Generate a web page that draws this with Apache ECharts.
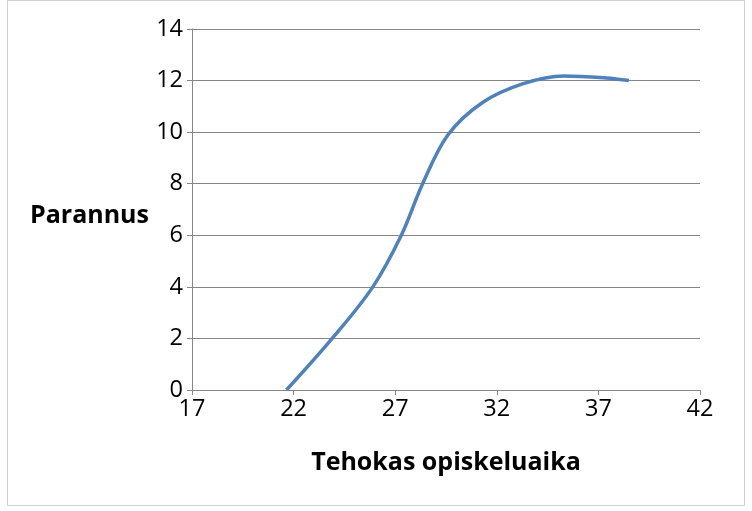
<!DOCTYPE html>
<html><head><meta charset="utf-8">
<script src="https://cdn.jsdelivr.net/npm/echarts@6/dist/echarts.min.js"></script>
<style>html,body{margin:0;padding:0;background:#fff}#c{width:752px;height:511px}</style>
</head><body><div id="c"></div>
<script>
const xValues = [21.65, 23.9, 25.9, 27.3, 28.35, 29.6, 31.3, 33.3, 35.3, 37.4, 38.5];
const yValues = [0, 2.0, 4.0, 6.0, 8.0, 9.9, 11.15, 11.88, 12.18, 12.1, 12.0];
const xTitle = "Tehokas opiskeluaika";
const yTitle = "Parannus";
const font = "'Open Sans', sans-serif";
const chart = echarts.init(document.getElementById('c'));
chart.setOption({
  animation: false,
  grid: {left: 192, right: 52, top: 29, bottom: 121},
  graphic: [
    {type: 'rect', shape: {x: 7.5, y: 0.5, width: 737, height: 505}, style: {fill: 'none', stroke: '#d0d0d0', lineWidth: 1}, silent: true},
    {type: 'text', left: 30, top: 203, style: {text: yTitle, font: "bold 25px 'Open Sans', sans-serif", fill: '#000'}}
  ],
  xAxis: {
    type: 'value', min: 17, max: 42, interval: 5,
    name: xTitle, nameLocation: 'middle', nameGap: 60,
    nameTextStyle: {fontFamily: font, fontSize: 25, fontWeight: 'bold', color: '#000'},
    axisLine: {show: true, lineStyle: {color: '#868686', width: 1}},
    axisTick: {show: true, length: 5, inside: false, lineStyle: {color: '#868686'}},
    axisLabel: {fontFamily: font, fontSize: 23.5, color: '#000', margin: 7},
    splitLine: {show: false}
  },
  yAxis: {
    type: 'value', min: 0, max: 14, interval: 2,
    axisLine: {show: true, lineStyle: {color: '#868686', width: 1}},
    axisTick: {show: true, length: 5, lineStyle: {color: '#868686'}},
    axisLabel: {fontFamily: font, fontSize: 23.5, color: '#000', margin: 9},
    splitLine: {show: true, lineStyle: {color: '#868686', width: 1}}
  },
  series: [{
    type: 'line',
    data: xValues.map((x, i) => [x, yValues[i]]),
    smooth: 0.35,
    showSymbol: false,
    lineStyle: {color: '#4F81BD', width: 3.5}
  }]
});
</script></body></html>
